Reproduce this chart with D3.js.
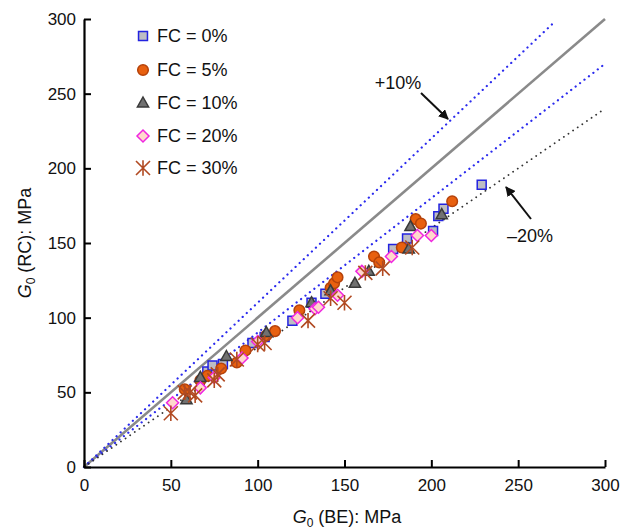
<!DOCTYPE html>
<html><head><meta charset="utf-8">
<script src="https://cdn.jsdelivr.net/npm/d3@7"></script>
<style>body{margin:0;background:#fff}svg{display:block}text{font-family:Arial,"Liberation Sans",sans-serif}</style>
</head><body>
<svg id="c" width="624" height="531"></svg>
<script>
const xTicks = [0, 50, 100, 150, 200, 250, 300];
const yTicks = [0, 50, 100, 150, 200, 250, 300];
const seriesNames = ["FC = 0%", "FC = 5%", "FC = 10%", "FC = 20%", "FC = 30%"];
const fc0 = [[71,64],[74,68],[80,69],[97,83],[104,87],[120,98],[131,110],[139,116],[178,146],[186,153],[201,158],[204,168],[207,173],[229,189]];
const fc5 = [[58,52],[67,58],[71,61],[79,66],[88,70],[93,78],[105,88],[110,91],[124,105],[142,120],[144,123],[146,127],[167,141],[170,137],[183,147],[191,166],[194,163],[212,178]];
const fc10 = [[59,45],[67,60],[82,74],[105,90],[131,110],[142,118],[156,123],[164,131],[187,146],[188,161],[206,169]];
const fc20 = [[51,43],[67,53],[75,60],[91,73],[100,84],[123,100],[133,106],[135,107],[146,115],[160,131],[177,141],[192,155],[200,155]];
const fc30 = [[50,36],[58,50],[61,50],[64,48],[75,58],[77,62],[88,72],[100,82],[104,83],[129,98],[142,113],[150,110],[162,130],[172,133],[189,147]];
// reference lines: [x0,y0,x1,y1]
const lineEqual = [0,0,300,300];
const linePlus10 = [0,0,270,297];
const lineMinus10 = [0,0,300,270];
const lineMinus20 = [0,0,300,240];

const svg = d3.select("#c");
const x = d3.scaleLinear().domain([0,300]).range([84,605]);
const y = d3.scaleLinear().domain([0,300]).range([467,19]);

function refLine(l, color, width, dash){
  svg.append("line").attr("x1",x(l[0])).attr("y1",y(l[1])).attr("x2",x(l[2])).attr("y2",y(l[3]))
    .attr("stroke",color).attr("stroke-width",width).attr("stroke-dasharray",dash||null)
    .attr("stroke-linecap", dash ? "round" : "butt");
}
refLine(lineEqual, "#8a8a8a", 2.6);
refLine(linePlus10, "#2a2aee", 2.2, "0.1,5.5");
refLine(lineMinus10, "#2a2aee", 2.2, "0.1,5.5");
refLine(lineMinus20, "#333", 1.8, "0.1,5.5");

const styles = [
  {sym: "square", fill: "#bdbdc4", stroke: "#2323e0"},
  {sym: "circle", fill: "#e8600f", stroke: "#b5420a"},
  {sym: "triangle", fill: "#717171", stroke: "#3a3a3a"},
  {sym: "diamond", fill: "#ffd8cc", stroke: "#f026e0"},
  {sym: "ast", fill: "none", stroke: "#b14a22"}
];
function drawMarker(g, st, cx, cy){
  let d;
  if (st.sym === "ast"){
    const r = 7;
    g.append("path").attr("d",
      `M${cx-r},${cy-r}L${cx+r},${cy+r}M${cx-r},${cy+r}L${cx+r},${cy-r}M${cx},${cy-r*1.1}L${cx},${cy+r*1.1}`)
      .attr("stroke", st.stroke).attr("stroke-width",1.6).attr("fill","none");
    return;
  }
  if (st.sym === "square") d = d3.symbol().type(d3.symbolSquare).size(80)();
  else if (st.sym === "circle") d = d3.symbol().type(d3.symbolCircle).size(88)();
  else if (st.sym === "triangle") d = "M0,-6L5.6,4L-5.6,4Z";
  else d = "M0,-6L6,0L0,6L-6,0Z";
  g.append("path").attr("d", d).attr("transform",`translate(${cx},${cy})`)
    .attr("fill", st.fill).attr("stroke", st.stroke).attr("stroke-width",1.5);
}
const allSeries = [fc0, fc5, fc10, fc20, fc30];
allSeries.forEach((s,i)=>{
  const g = svg.append("g");
  s.forEach(d=>drawMarker(g, styles[i], x(d[0]), y(d[1])));
});

// axes
const xAxis = d3.axisBottom(x).tickValues(xTicks).tickSizeInner(-7).tickSizeOuter(0).tickPadding(10);
const yAxis = d3.axisLeft(y).tickValues(yTicks).tickSizeInner(-7).tickSizeOuter(0).tickPadding(8);
const gx = svg.append("g").attr("transform",`translate(0,${y(0)})`).call(xAxis);
const gy = svg.append("g").attr("transform",`translate(${x(0)},0)`).call(yAxis);
[gx,gy].forEach(g=>{
  g.select(".domain").attr("stroke","#000").attr("stroke-width",2.2);
  g.selectAll(".tick line").attr("stroke","#000").attr("stroke-width",2);
  g.selectAll(".tick text").attr("font-size",17).attr("fill","#111").attr("font-family","Arial, Liberation Sans, sans-serif");
});
gx.selectAll(".tick text").attr("dy","0.85em");

// axis titles
const xt = svg.append("text").attr("x",347).attr("y",523).attr("text-anchor","middle").attr("font-size",18).attr("fill","#111");
xt.append("tspan").attr("font-style","italic").text("G");
xt.append("tspan").attr("font-size",12).attr("dy",4).text("0");
xt.append("tspan").attr("dy",-4).text(" (BE): MPa");
const yt = svg.append("text").attr("transform","translate(31,243) rotate(-90)").attr("text-anchor","middle").attr("font-size",18).attr("fill","#111");
yt.append("tspan").attr("font-style","italic").text("G");
yt.append("tspan").attr("font-size",12).attr("dy",4).text("0");
yt.append("tspan").attr("dy",-4).text(" (RC): MPa");

// legend
const legY = [36, 70, 103, 136, 168];
seriesNames.forEach((n,i)=>{
  const g = svg.append("g");
  drawMarker(g, styles[i], 143, legY[i]);
  g.append("text").attr("x",157).attr("y",legY[i]).attr("dy","0.36em").attr("font-size",18).attr("fill","#111").text(n);
});

// annotations
svg.append("defs").append("marker").attr("id","ah").attr("viewBox","0 0 10 10").attr("refX",9).attr("refY",5)
  .attr("markerWidth",5).attr("markerHeight",5).attr("orient","auto")
  .append("path").attr("d","M0,0L10,5L0,10z").attr("fill","#111");
svg.append("text").attr("x",398).attr("y",83).attr("dy","0.36em").attr("text-anchor","middle").attr("font-size",18).attr("fill","#111").text("+10%");
svg.append("line").attr("x1",421).attr("y1",93).attr("x2",448).attr("y2",119).attr("stroke","#111").attr("stroke-width",2).attr("marker-end","url(#ah)");
svg.append("text").attr("x",530).attr("y",236).attr("dy","0.36em").attr("text-anchor","middle").attr("font-size",18).attr("fill","#111").text("\u201320%");
svg.append("line").attr("x1",531).attr("y1",219).attr("x2",506).attr("y2",187).attr("stroke","#111").attr("stroke-width",2).attr("marker-end","url(#ah)");
</script>
</body></html>
